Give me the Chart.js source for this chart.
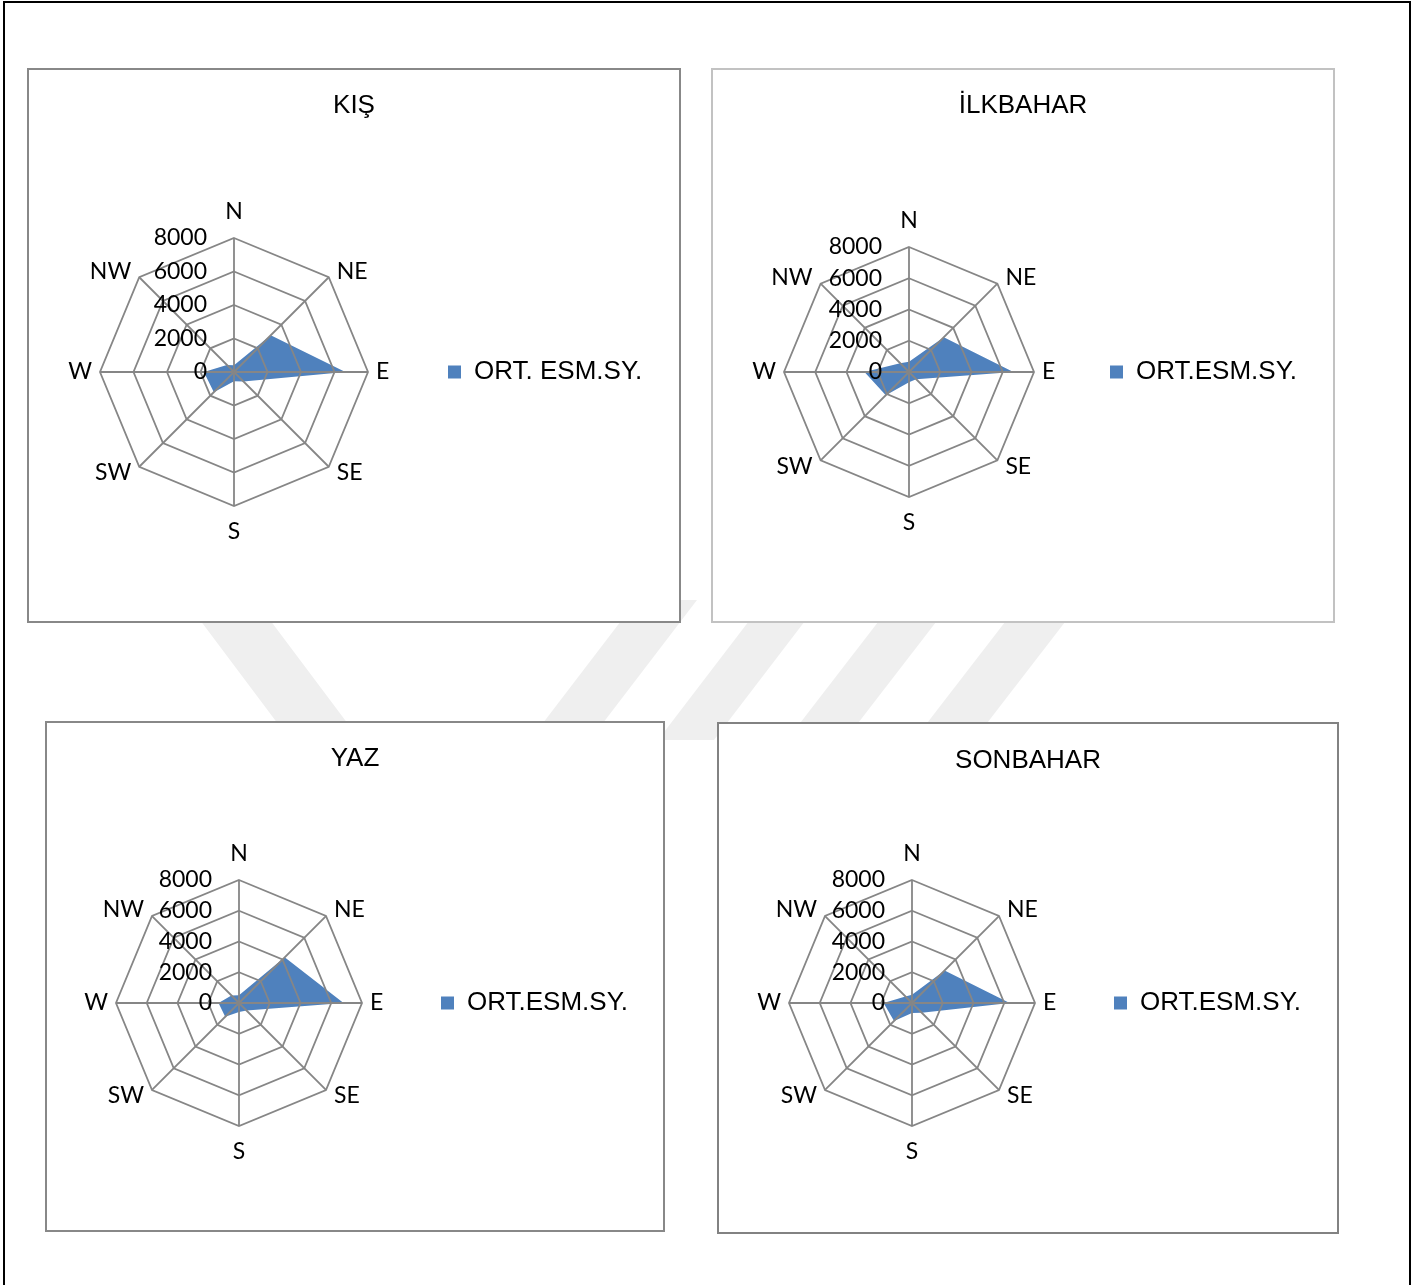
<!DOCTYPE html>
<html>
<head>
<meta charset="utf-8">
<script src="https://cdn.jsdelivr.net/npm/chart.js@4.4.1/dist/chart.umd.min.js"></script>
<style>
  body { margin: 0; background: #fff; }
  #page { position: relative; width: 1427px; height: 1285px; overflow: hidden; background: #fff; }
  #mark { position: absolute; left: 0; top: 0; }
  #frame { position: absolute; left: 3px; top: 1px; width: 1408px; height: 1286px; border: 2px solid #000; box-sizing: border-box; }
  .box { position: absolute; background: #fff; border: 2px solid #888; box-sizing: border-box; }
  .box canvas { position: absolute; left: 0; top: 0; }
</style>
</head>
<body>
<div id="page">
  <canvas id="mark" width="1427" height="1285"></canvas>
  <div id="frame"></div>
</div>
<script>
// yön etiketleri (saat yönünde, kuzeyden başlayarak)
const directions = ['N', 'NE', 'E', 'SE', 'S', 'SW', 'W', 'NW'];
const tickValues = [0, 2000, 4000, 6000, 8000];

// ortalama esme sayıları (resimden okunan tahmini değerler)
const kis      = [400, 3100, 6650, 800, 550, 1700, 1800, 600];
const ilkbahar = [650, 3150, 6680, 650, 650, 2100, 2850, 800];
const yaz      = [500, 4200, 6800, 700, 580, 1270, 1330, 700];
const sonbahar = [540, 3000, 6350, 900, 650, 1650, 1850, 600];

const titles = ['KIŞ', 'İLKBAHAR', 'YAZ', 'SONBAHAR'];
const seriesNames = ['ORT. ESM.SY.', 'ORT.ESM.SY.', 'ORT.ESM.SY.', 'ORT.ESM.SY.'];

const BLUE = '#4f81bd';
const GRID = '#868686';
const TITLE_FONT = 26;
const LABEL_FONT = 23;

// kutu yerleşimi: [sol, üst, genişlik, yükseklik], merkez, yarıçap, başlık y, lejant metni x
const panels = [
  { data: kis,      box: [27, 68, 654, 555],  cx: 205, cy: 302, r: 134, ty: 36, textX: 445, border: '#888' },
  { data: ilkbahar, box: [711, 68, 624, 555], cx: 196, cy: 302, r: 125, ty: 36, textX: 423, border: '#c2c2c2' },
  { data: yaz,      box: [45, 721, 620, 511], cx: 192, cy: 280, r: 123, ty: 36, textX: 420, border: '#888' },
  { data: sonbahar, box: [717, 722, 622, 512], cx: 193, cy: 279, r: 123, ty: 37, textX: 421, border: '#828282' }
];

// --- filigran (arka plan şeritleri) ---
const mk = document.getElementById('mark').getContext('2d');
mk.fillStyle = '#efefef';
const stripes = [
  [[185, 600], [255, 600], [360, 740], [290, 740]],
  [[637, 600], [697, 600], [590, 740], [530, 740]],
  [[765, 600], [821, 600], [714, 740], [658, 740]],
  [[895, 600], [953, 600], [845, 740], [787, 740]],
  [[1022, 600], [1082, 600], [974, 740], [914, 740]]
];
stripes.forEach(s => {
  mk.beginPath();
  s.forEach((p, i) => i ? mk.lineTo(p[0], p[1]) : mk.moveTo(p[0], p[1]));
  mk.closePath();
  mk.fill();
});

// yön ve eksen yazıları
const radarText = {
  id: 'radarText',
  afterDraw(chart) {
    const s = chart.scales.r;
    const ctx = chart.ctx;
    ctx.save();
    ctx.font = LABEL_FONT + 'px Lato';
    ctx.fillStyle = '#000';
    ctx.textAlign = 'right';
    ctx.textBaseline = 'middle';
    s.ticks.forEach(t => {
      ctx.fillText(String(t.value), s.xCenter - 27, s.yCenter - s.getDistanceFromCenterForValue(t.value));
    });
    chart.data.labels.forEach((lbl, i) => {
      const a = s.getIndexAngle(i);
      const sx = Math.sin(a), sy = -Math.cos(a);
      const p = s.getPointPosition(i, s.drawingArea);
      if (Math.abs(sx) < 0.1) {
        ctx.textAlign = 'center';
        ctx.fillText(lbl, p.x, p.y + Math.sign(sy) * 26);
      } else {
        ctx.textAlign = sx > 0 ? 'left' : 'right';
        const dy = Math.abs(sy) < 0.1 ? 0 : Math.sign(sy) * 6;
        ctx.fillText(lbl, p.x + Math.sign(sx) * 8, p.y + dy);
      }
    });
    ctx.restore();
  }
};

const page = document.getElementById('page');
const measure = document.createElement('canvas').getContext('2d');
measure.font = TITLE_FONT + 'px "Liberation Sans"';

panels.forEach((pn, k) => {
  const [L, T, W, H] = pn.box;
  const div = document.createElement('div');
  div.className = 'box';
  Object.assign(div.style, { left: L + 'px', top: T + 'px', width: W + 'px', height: H + 'px', borderColor: pn.border });
  const cw = W - 4, ch = H - 4;
  const cv = document.createElement('canvas');
  cv.width = cw; cv.height = ch;
  cv.style.width = cw + 'px'; cv.style.height = ch + 'px';
  div.appendChild(cv);
  page.appendChild(div);

  // yerleşim hesapları
  const textW = measure.measureText(seriesNames[k]).width;
  const itemW = 13 + TITLE_FONT / 2 + textW;
  const legendW = cw - 2 * pn.cx;
  const lp = legendW - 10 - itemW;
  const P = cw - legendW + lp - (pn.textX - 26);
  const tTop = pn.ty - TITLE_FONT * 1.2 / 2;
  const areaTop = pn.cy - pn.r;
  const tBottom = areaTop - tTop - TITLE_FONT * 1.2;
  const B = ch - (pn.cy + pn.r);

  new Chart(cv, {
    type: 'radar',
    data: {
      labels: directions,
      datasets: [{
        label: seriesNames[k],
        data: pn.data,
        backgroundColor: BLUE,
        borderColor: BLUE,
        borderWidth: 0,
        fill: true,
        pointRadius: 0,
        pointHoverRadius: 0
      }]
    },
    options: {
      responsive: false,
      animation: false,
      devicePixelRatio: 1,
      layout: { padding: { left: P, right: P, top: 0, bottom: B } },
      plugins: {
        title: {
          display: true,
          text: titles[k],
          color: '#000',
          font: { family: 'Liberation Sans', size: TITLE_FONT, weight: 'normal' },
          padding: { top: tTop, bottom: tBottom }
        },
        legend: {
          position: 'right',
          fullSize: false,
          labels: {
            color: '#000',
            boxWidth: 13,
            boxHeight: 13,
            padding: lp,
            font: { family: 'Liberation Sans', size: TITLE_FONT }
          }
        },
        tooltip: { enabled: false }
      },
      scales: {
        r: {
          min: tickValues[0],
          max: tickValues[tickValues.length - 1],
          ticks: { stepSize: 2000, display: false },
          grid: { color: GRID, lineWidth: 1.8, z: 1 },
          angleLines: { color: GRID, lineWidth: 1.8 },
          pointLabels: { display: false }
        }
      }
    },
    plugins: [radarText]
  });
});
</script>
</body>
</html>
